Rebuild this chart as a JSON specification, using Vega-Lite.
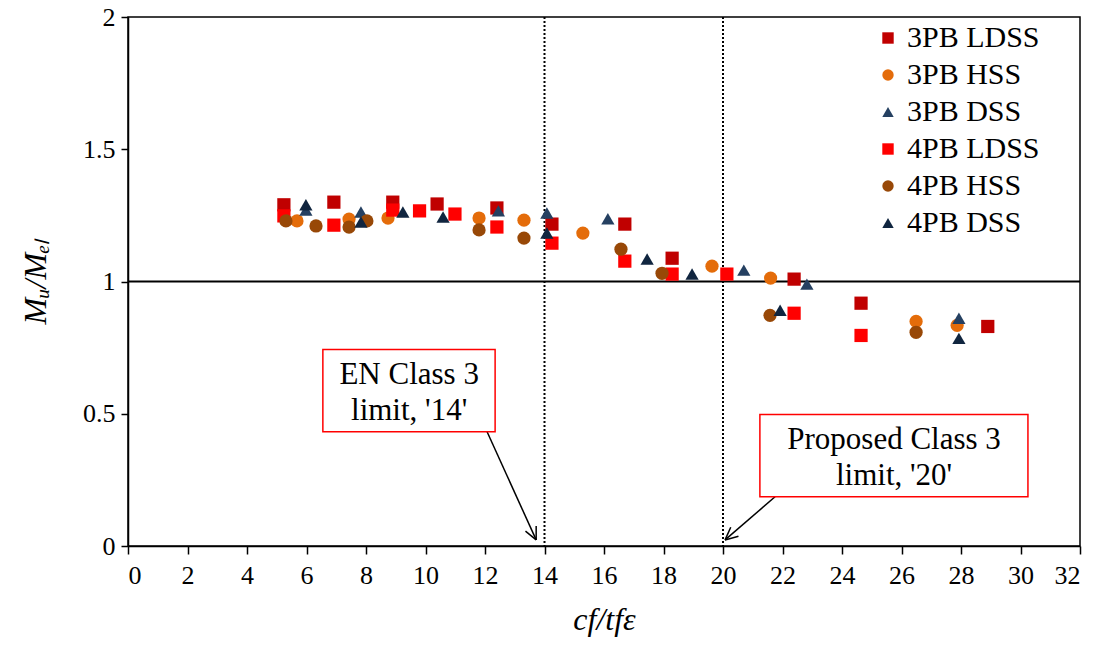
{
  "$schema": "https://vega.github.io/schema/vega-lite/v6.json",
  "width": 952,
  "height": 529,
  "autosize": {"type": "none"},
  "padding": {"left": 128, "top": 17, "right": 21, "bottom": 101},
  "background": "white",
  "config": {
    "view": {"stroke": "black", "strokeWidth": 1.5},
    "font": "Liberation Serif",
    "axis": {
      "grid": false,
      "domainColor": "black",
      "domainWidth": 1.5,
      "tickColor": "black",
      "tickWidth": 1.5,
      "labelColor": "black",
      "labelFont": "Liberation Serif",
      "labelFontSize": 26,
      "titleFont": "Liberation Serif",
      "titleFontSize": 32,
      "titleFontStyle": "italic",
      "titleFontWeight": "normal",
      "titleColor": "black"
    }
  },
  "datasets": {
    "points": [
      {"series": "3PB LDSS", "x": 5.24, "y": 1.29},
      {"series": "3PB LDSS", "x": 6.92, "y": 1.30},
      {"series": "3PB LDSS", "x": 8.9, "y": 1.30},
      {"series": "3PB LDSS", "x": 10.39, "y": 1.293},
      {"series": "3PB LDSS", "x": 12.4, "y": 1.278},
      {"series": "3PB LDSS", "x": 14.25, "y": 1.217},
      {"series": "3PB LDSS", "x": 16.7, "y": 1.217},
      {"series": "3PB LDSS", "x": 18.29, "y": 1.088},
      {"series": "3PB LDSS", "x": 22.39, "y": 1.009},
      {"series": "3PB LDSS", "x": 24.64, "y": 0.918},
      {"series": "3PB LDSS", "x": 28.9, "y": 0.83},
      {"series": "3PB HSS", "x": 5.68, "y": 1.229},
      {"series": "3PB HSS", "x": 7.43, "y": 1.236},
      {"series": "3PB HSS", "x": 8.74, "y": 1.24},
      {"series": "3PB HSS", "x": 11.8, "y": 1.24},
      {"series": "3PB HSS", "x": 13.31, "y": 1.232},
      {"series": "3PB HSS", "x": 15.29, "y": 1.183},
      {"series": "3PB HSS", "x": 19.63, "y": 1.058},
      {"series": "3PB HSS", "x": 21.6, "y": 1.013},
      {"series": "3PB HSS", "x": 26.49, "y": 0.849},
      {"series": "3PB HSS", "x": 27.87, "y": 0.834},
      {"series": "3PB DSS", "x": 5.98, "y": 1.27},
      {"series": "3PB DSS", "x": 7.83, "y": 1.263},
      {"series": "3PB DSS", "x": 12.45, "y": 1.267},
      {"series": "3PB DSS", "x": 14.08, "y": 1.259},
      {"series": "3PB DSS", "x": 16.13, "y": 1.237},
      {"series": "3PB DSS", "x": 20.7, "y": 1.043},
      {"series": "3PB DSS", "x": 22.82, "y": 0.99},
      {"series": "3PB DSS", "x": 27.93, "y": 0.861},
      {"series": "4PB LDSS", "x": 5.24, "y": 1.248},
      {"series": "4PB LDSS", "x": 6.92, "y": 1.213},
      {"series": "4PB LDSS", "x": 8.9, "y": 1.27},
      {"series": "4PB LDSS", "x": 9.8, "y": 1.267},
      {"series": "4PB LDSS", "x": 10.99, "y": 1.255},
      {"series": "4PB LDSS", "x": 12.4, "y": 1.206},
      {"series": "4PB LDSS", "x": 14.25, "y": 1.145},
      {"series": "4PB LDSS", "x": 16.7, "y": 1.077},
      {"series": "4PB LDSS", "x": 18.29, "y": 1.028},
      {"series": "4PB LDSS", "x": 20.13, "y": 1.028},
      {"series": "4PB LDSS", "x": 22.39, "y": 0.88},
      {"series": "4PB LDSS", "x": 24.64, "y": 0.796},
      {"series": "4PB HSS", "x": 5.31, "y": 1.229},
      {"series": "4PB HSS", "x": 6.32, "y": 1.21},
      {"series": "4PB HSS", "x": 7.43, "y": 1.206},
      {"series": "4PB HSS", "x": 8.03, "y": 1.229},
      {"series": "4PB HSS", "x": 11.8, "y": 1.195},
      {"series": "4PB HSS", "x": 13.31, "y": 1.164},
      {"series": "4PB HSS", "x": 16.57, "y": 1.122},
      {"series": "4PB HSS", "x": 17.95, "y": 1.031},
      {"series": "4PB HSS", "x": 21.58, "y": 0.872},
      {"series": "4PB HSS", "x": 26.49, "y": 0.808},
      {"series": "4PB DSS", "x": 5.98, "y": 1.29},
      {"series": "4PB DSS", "x": 7.83, "y": 1.225},
      {"series": "4PB DSS", "x": 9.24, "y": 1.263},
      {"series": "4PB DSS", "x": 10.59, "y": 1.244},
      {"series": "4PB DSS", "x": 14.08, "y": 1.183},
      {"series": "4PB DSS", "x": 17.45, "y": 1.085},
      {"series": "4PB DSS", "x": 18.96, "y": 1.028},
      {"series": "4PB DSS", "x": 21.92, "y": 0.891},
      {"series": "4PB DSS", "x": 27.93, "y": 0.785}
    ],
    "segments": [
      {"x": 12.07, "y": 0.432, "x2": 13.72, "y2": 0.023},
      {"x": 13.72, "y": 0.076, "x2": 13.72, "y2": 0.023},
      {"x": 13.36, "y": 0.0565, "x2": 13.72, "y2": 0.023},
      {"x": 21.75, "y": 0.186, "x2": 20.07, "y2": 0.023},
      {"x": 20.52, "y": 0.037, "x2": 20.07, "y2": 0.023},
      {"x": 20.26, "y": 0.071, "x2": 20.07, "y2": 0.023}
    ],
    "boxes": [
      {"x": 6.55, "x2": 12.34, "y": 0.743, "y2": 0.432},
      {"x": 21.24, "x2": 30.25, "y": 0.497, "y2": 0.186}
    ],
    "labels": [
      {"x": 9.45, "y": 0.645, "text": "EN Class 3"},
      {"x": 9.45, "y": 0.51, "text": "limit, '14'"},
      {"x": 25.75, "y": 0.4, "text": "Proposed Class 3"},
      {"x": 25.75, "y": 0.265, "text": "limit, '20'"}
    ]
  },
  "layer": [
    {
      "data": {"values": [{"v": 14}, {"v": 20}]},
      "mark": {"type": "rule", "color": "black", "strokeWidth": 2, "strokeDash": [2, 2]},
      "encoding": {
        "x": {"field": "v", "type": "quantitative", "scale": {"domain": [0, 32]}}
      }
    },
    {
      "data": {"values": [{"v": 1}]},
      "mark": {"type": "rule", "color": "black", "strokeWidth": 2},
      "encoding": {
        "y": {"field": "v", "type": "quantitative", "scale": {"domain": [0, 2]}}
      }
    },
    {
      "data": {"name": "points"},
      "mark": {"type": "point", "filled": true, "opacity": 1, "size": 175},
      "encoding": {
        "x": {
          "field": "x", "type": "quantitative",
          "scale": {"domain": [0, 32], "nice": false},
          "axis": {"values": [0,2,4,6,8,10,12,14,16,18,20,22,24,26,28,30,32], "tickSize": 8, "labelPadding": 8, "title": "cf/tfε", "titlePadding": 16}
        },
        "y": {
          "field": "y", "type": "quantitative",
          "scale": {"domain": [0, 2], "nice": false},
          "axis": {"values": [0, 0.5, 1, 1.5, 2], "format": "~g", "tickSize": 7, "labelPadding": 6, "title": "Mᵤ/Mₑₗ", "titlePadding": 30}
        },
        "color": {
          "field": "series", "type": "nominal",
          "scale": {
            "domain": ["3PB LDSS", "3PB HSS", "3PB DSS", "4PB LDSS", "4PB HSS", "4PB DSS"],
            "range": ["#C00000", "#E46C0A", "#254061", "#FF0000", "#984807", "#10253F"]
          },
          "legend": {
            "title": null,
            "orient": "none",
            "legendX": 745,
            "legendY": 6,
            "labelFont": "Liberation Serif",
            "labelFontSize": 30,
            "labelColor": "black",
            "symbolSize": 130,
            "rowPadding": 7,
            "labelOffset": 4
          }
        },
        "shape": {
          "field": "series", "type": "nominal",
          "scale": {
            "domain": ["3PB LDSS", "3PB HSS", "3PB DSS", "4PB LDSS", "4PB HSS", "4PB DSS"],
            "range": ["square", "circle", "triangle-up", "square", "circle", "triangle-up"]
          },
          "legend": null
        }
      }
    },
    {
      "data": {"name": "segments"},
      "mark": {"type": "rule", "color": "black", "strokeWidth": 1.5},
      "encoding": {
        "x": {"field": "x", "type": "quantitative"},
        "y": {"field": "y", "type": "quantitative"},
        "x2": {"field": "x2"},
        "y2": {"field": "y2"}
      }
    },
    {
      "data": {"name": "boxes"},
      "mark": {"type": "rect", "fill": "white", "stroke": "#FF0000", "strokeWidth": 1.5},
      "encoding": {
        "x": {"field": "x", "type": "quantitative"},
        "y": {"field": "y", "type": "quantitative"},
        "x2": {"field": "x2"},
        "y2": {"field": "y2"}
      }
    },
    {
      "data": {"name": "labels"},
      "mark": {"type": "text", "font": "Liberation Serif", "fontSize": 31, "color": "black", "align": "center", "baseline": "middle"},
      "encoding": {
        "x": {"field": "x", "type": "quantitative"},
        "y": {"field": "y", "type": "quantitative"},
        "text": {"field": "text"}
      }
    }
  ]
}
